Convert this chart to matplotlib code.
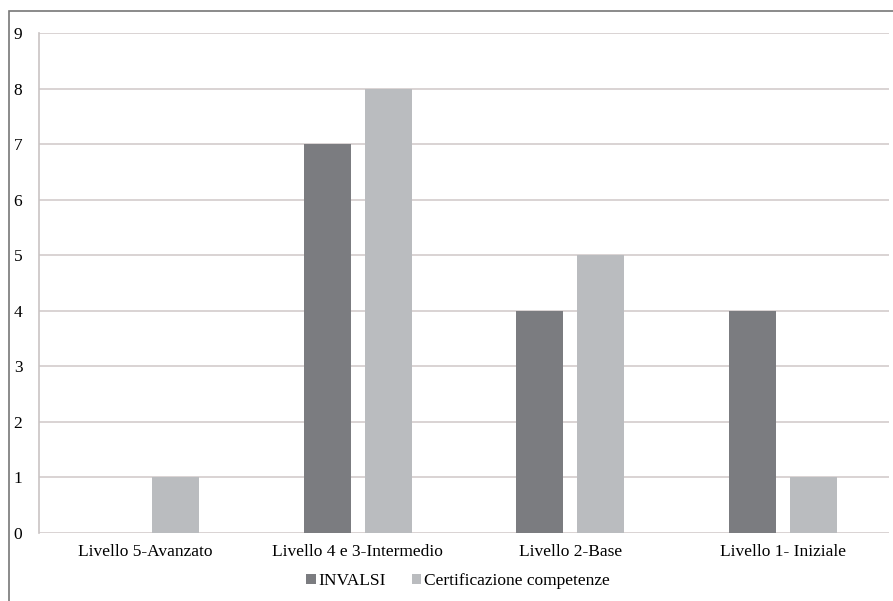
import matplotlib
matplotlib.use("Agg")
import matplotlib.pyplot as plt
import numpy as np
from matplotlib.patches import Rectangle

plt.rcParams['font.family'] = ['Liberation Serif', 'DejaVu Serif']

categories = ['Livello 5-Avanzato', 'Livello 4 e 3-Intermedio',
              'Livello 2-Base', 'Livello 1- Iniziale']
invalsi = [0, 7, 4, 4]
certificazione = [1, 8, 5, 1]

COL_DARK = '#7b7c80'
COL_LIGHT = '#babcbf'
COL_GRID = '#d3cccc'
FS = 12.5

fig = plt.figure(figsize=(8.93, 6.01), dpi=100)
ax = fig.add_axes([39 / 893, 1 - 533 / 601, 850 / 893, 500 / 601])

x = np.arange(len(categories))
w, off = 0.221, 0.1435
ax.bar(x - off, invalsi, width=w, color=COL_DARK, label='INVALSI', zorder=3)
ax.bar(x + off, certificazione, width=w, color=COL_LIGHT,
       label='Certificazione competenze', zorder=3)

ax.set_xlim(-0.5, 3.5)
ax.set_ylim(0, 9)
ax.set_yticks(range(0, 10))
ax.yaxis.grid(True, color=COL_GRID, lw=1.2, zorder=0)
ax.set_xticks(x)
ax.set_xticklabels(categories, fontsize=FS)
ax.tick_params(axis='y', labelsize=FS, length=0, pad=12)
ax.tick_params(axis='x', length=0, pad=8)
for s in ('top', 'right', 'bottom'):
    ax.spines[s].set_visible(False)
ax.spines['left'].set_color('#c9c4c4')
ax.spines['left'].set_linewidth(1.2)

ax.legend(loc='center', bbox_to_anchor=(458 / 893, 1 - 581 / 601),
          bbox_transform=fig.transFigure, ncol=2, frameon=False,
          fontsize=FS, handlelength=0.55, handleheight=0.55,
          handletextpad=0.15, columnspacing=1.5)

# frame round the figure
fig.add_artist(Rectangle((9 / 893, -0.1), 1.2, 1 - 11 / 601 + 0.1,
                         transform=fig.transFigure, fill=False,
                         edgecolor='#777777', lw=1.2))

fig.savefig('out.png', dpi=100, facecolor='white')
